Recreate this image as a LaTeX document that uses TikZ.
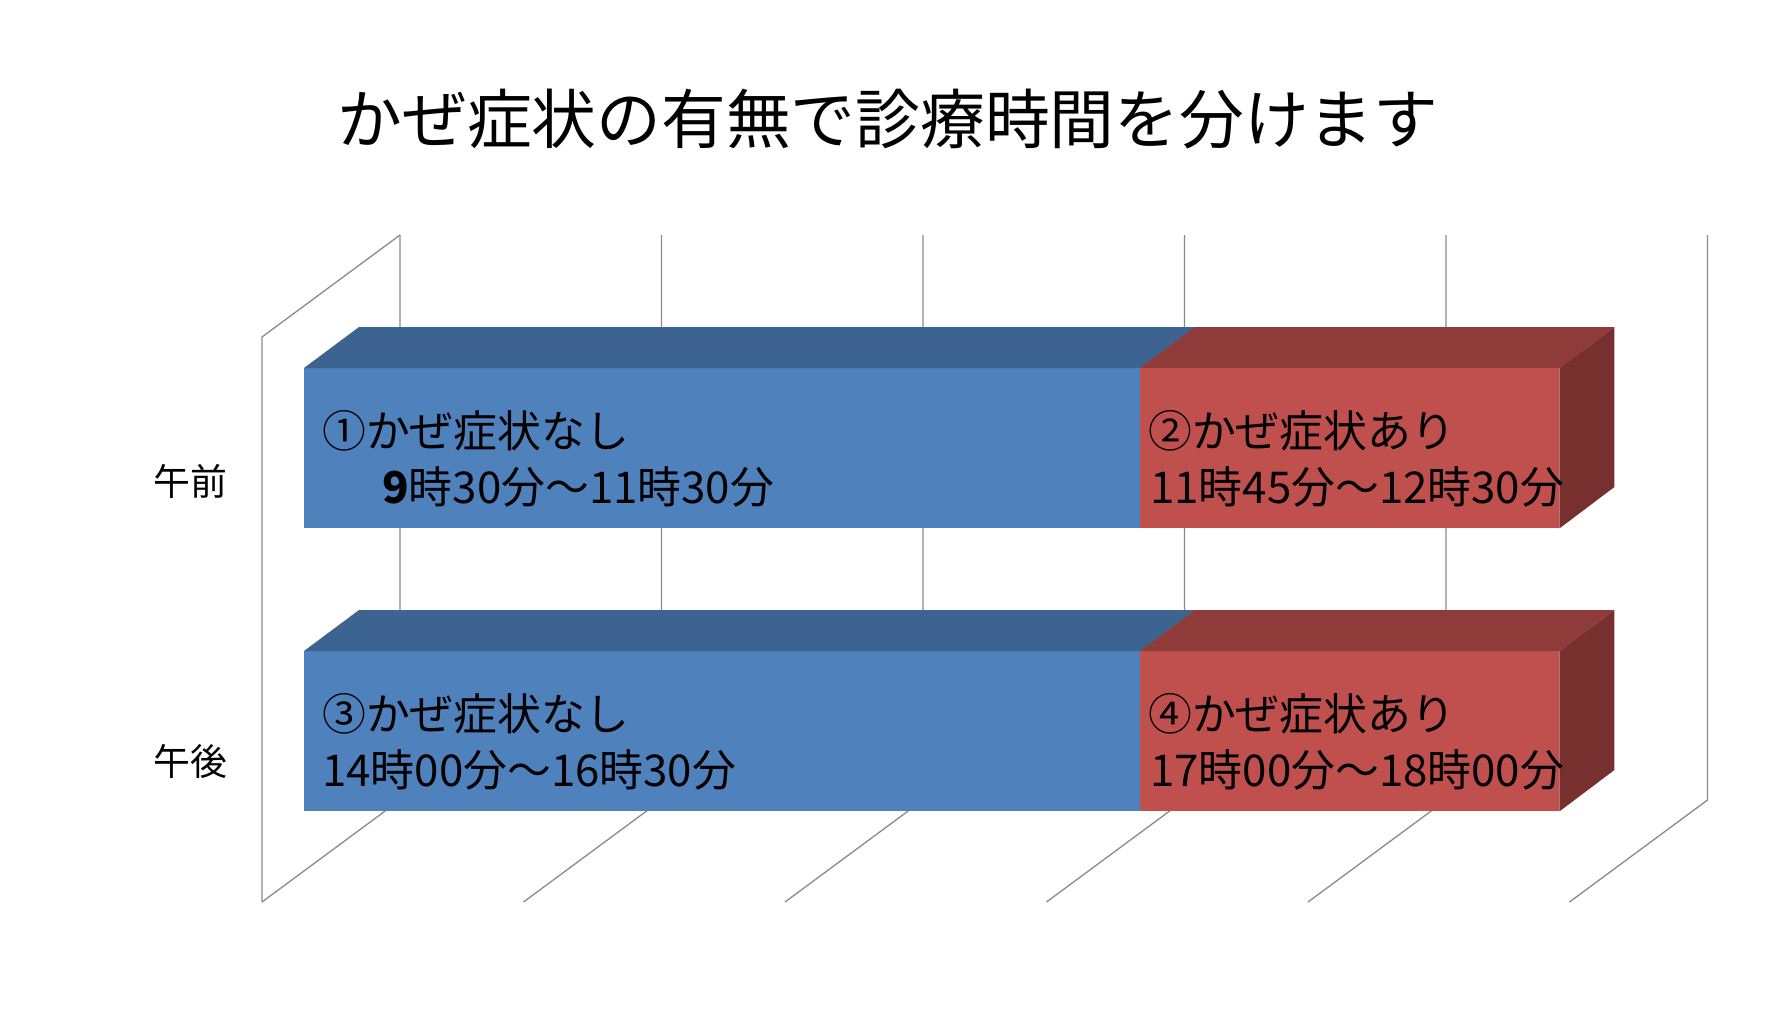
\documentclass[tikz,border=0pt]{standalone}
\usepackage{fontspec}
\setmainfont{Noto Sans CJK JP}
\usepackage{tikz}
\usetikzlibrary{calc}
\definecolor{barblue}{HTML}{4F81BD}
\definecolor{barbluetop}{HTML}{3D6490}
\definecolor{barred}{HTML}{C0504D}
\definecolor{barredtop}{HTML}{8E3B39}
\definecolor{barredside}{HTML}{77302E}
\definecolor{gridgray}{HTML}{8A8A8A}
\tikzset{
  gridline/.style={draw=gridgray,line width=1.3pt},
  face/.style={draw=none,inner sep=0pt,minimum height=160bp,anchor=north west},
  bartext/.style={anchor=west,inner sep=0pt,font=\fontsize{44}{44}\selectfont},
  rowlabel/.style={inner sep=0pt,font=\fontsize{37}{37}\selectfont},
}

\begin{document}
\begin{tikzpicture}[x=1bp,y=-1bp]
  \useasboundingbox (0,0) rectangle (1774,1013);
  \node[font=\fontsize{65}{65}\selectfont] (title) at (888,119)
    {かぜ症状の有無で診療時間を分けます};
  % back wall, grid and floor
  \draw[gridline] (262,902) -- (262,337) -- (400,235);
  \foreach \k in {0,...,5}{
    \draw[gridline] (400+\k*261.5,235) -- (400+\k*261.5,800) -- ++(-138,102);
  }
  % bars
  \foreach \r/\yy in {am/368,pm/651}{
    \node[face,fill=barblue,minimum width=836bp] (\r blue) at (304,\yy) {};
    \node[face,fill=barred,minimum width=419bp] (\r red) at (1140,\yy) {};
    \fill[barbluetop] (\r blue.north west) -- ++(55,-41) -- ($(\r blue.north east)+(55,-41)$)
      -- (\r blue.north east) -- cycle;
    \fill[barredtop] (\r red.north west) -- ++(55,-41) -- ($(\r red.north east)+(55,-41)$)
      -- (\r red.north east) -- cycle;
    \fill[barredside] (\r red.north east) -- ++(55,-41) -- ++(0,160)
      -- (\r red.south east) -- cycle;
  }
  % labels
  \node[rowlabel] (amlabel) at (190,481) {午前};
  \node[rowlabel] (pmlabel) at (190,761) {午後};
  \node[bartext] (t1a) at (322,431) {①かぜ症状なし};
  \node[bartext] (t1b) at (382,487) {\textbf{9}時30分～11時30分};
  \node[bartext] (t2a) at (1148,431) {②かぜ症状あり};
  \node[bartext] (t2b) at (1150,487) {11時45分～12時30分};
  \node[bartext] (t3a) at (322,714) {③かぜ症状なし};
  \node[bartext] (t3b) at (322,770) {14時00分～16時30分};
  \node[bartext] (t4a) at (1148,714) {④かぜ症状あり};
  \node[bartext] (t4b) at (1150,770) {17時00分～18時00分};
\end{tikzpicture}
\end{document}
